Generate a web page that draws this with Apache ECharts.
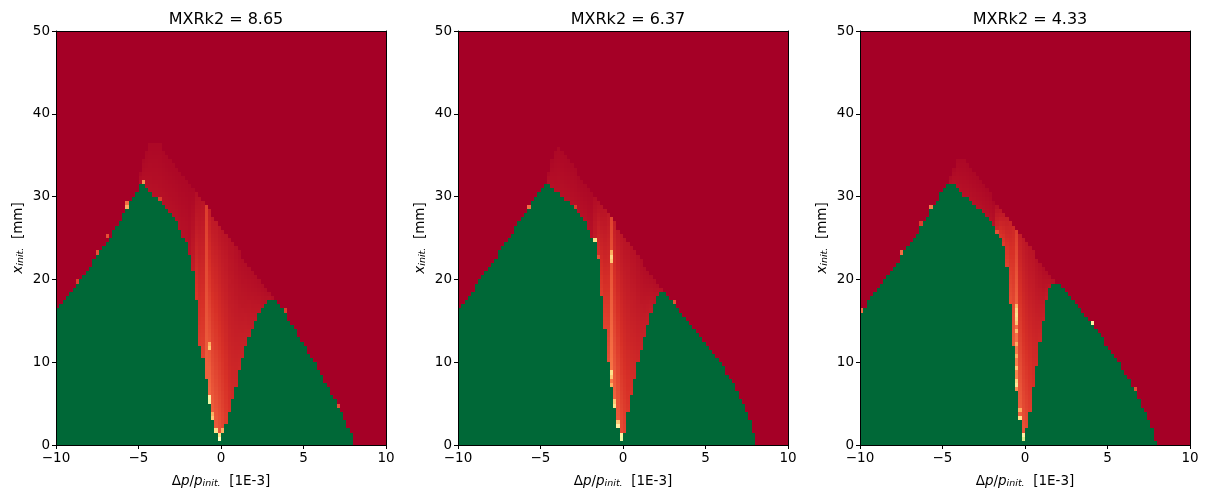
<!DOCTYPE html>
<html>
<head>
<meta charset="utf-8">
<script src="https://cdn.jsdelivr.net/npm/echarts@6.0.0/dist/echarts.min.js"></script>
<style>
  html, body { margin: 0; padding: 0; background: #fff; }
  #chart { width: 1205px; height: 498px; }
</style>
</head>
<body>
<div id="chart"></div>
<script>
// panel titles
var titles = ["MXRk2 = 8.65", "MXRk2 = 6.37", "MXRk2 = 4.33"];
var xTicks = [-10, -5, 0, 5, 10];
var yTicks = [0, 10, 20, 30, 40, 50];

// height (mm) up to which each 0.2-wide column stays stable (green), x = -9.9 .. 9.9
var green1 = [16.5, 17, 17.5, 18, 18.5, 19, 19.5, 20, 20.5, 21, 21.5, 22.5, 23, 23.5, 24, 24.5, 25, 26, 26.5, 27,
  28, 28.5, 29.5, 30, 30.5, 31.5, 31.5, 31, 30.5, 30, 30, 29.5, 29, 28.5, 28, 27.5, 27, 26, 25, 24.5,
  23, 21, 17.5, 12, 10.5, 8, 5, 3, 1.5, 0.5, 1.5, 2.5, 4, 5.5, 7, 9, 10.5, 12, 13, 14,
  15, 16, 16.5, 17, 17.5, 17.5, 17.5, 17, 16.5, 16, 15, 14.5, 14, 13, 12.5, 12, 11, 10.5, 10, 9,
  8.5, 7.5, 7, 6, 5.5, 4.5, 4, 3, 2, 1.5, 0, 0, 0, 0, 0, 0, 0, 0, 0, 0];
var green2 = [16.5, 17, 17.5, 18, 18.5, 19.5, 20, 20.5, 21, 21.5, 22, 22.5, 23.5, 24, 24.5, 25, 25.5, 26.5, 27, 27.5,
  28, 28.5, 29.5, 30, 30.5, 31, 31.5, 31.5, 31, 30.5, 30.5, 30, 29.5, 29.5, 29, 28.5, 28, 27.5, 27, 26,
  25, 24.5, 22.5, 18, 14, 10, 7, 4.5, 2, 0.5, 1.5, 4, 6, 8, 10, 11.5, 13, 14.5, 16, 17,
  18, 18.5, 18.5, 18, 17.5, 17, 16.5, 16, 15.5, 15, 14.5, 14, 13.5, 13, 12.5, 12, 11.5, 11, 10.5, 10,
  9.5, 8.5, 8, 7.5, 6.5, 5.5, 5, 4, 3, 1.5, 0, 0, 0, 0, 0, 0, 0, 0, 0, 0];
var green3 = [16, 16.5, 17.5, 18, 18.5, 19, 19.5, 20, 20.5, 21, 21.5, 22, 23, 23.5, 24, 24.5, 25, 25.5, 26.5, 27,
  27.5, 28.5, 29, 29.5, 30.5, 31, 31.5, 31.5, 31.5, 31, 30.5, 30, 30, 29.5, 29, 28.5, 28.5, 28, 27.5, 27,
  26.5, 25.5, 25, 24, 21.5, 17, 12, 6.5, 3, 0.5, 2, 4, 7, 9.5, 12.5, 15, 17.5, 19, 19.5, 19.5,
  19.5, 19, 18.5, 18, 17.5, 17, 16.5, 16, 15.5, 15, 14.5, 14, 13.5, 13, 12, 11.5, 11, 10.5, 10, 9,
  8.5, 8, 7, 6.5, 5.5, 4.5, 4, 3, 2, 0.5, 0, 0, 0, 0, 0, 0, 0, 0, 0, 0];

// partly-surviving band: first column, top of band (mm), level at band top and at green edge
var from1 = -4.9;
var top1 = [33, 34.5, 35.5, 36.5, 36.5, 36.5, 36.5, 35.5, 35, 34.5, 34, 33.5, 33, 32.5, 32, 31.5, 31, 30.5, 30, 29.5,
  29, 28.5, 27.5, 27, 26.5, 26, 25.5, 25, 24.5, 24, 23.5, 22.5, 22, 21.5, 21, 20.5, 20, 19.5, 19, 18.5, 18];
var hiLv1 = [0.015, 0.015, 0.015, 0.015, 0.015, 0.015, 0.015, 0.015, 0.015, 0.015, 0.015, 0.015, 0.015, 0.015, 0.015, 0.015, 0.015,
  0.03, 0.035, 0.04, 0.12, 0.06, 0.05, 0.05, 0.045, 0.04, 0.04, 0.035, 0.035, 0.03,
  0.025, 0.025, 0.025, 0.025, 0.025, 0.025, 0.025, 0.025, 0.025, 0.025, 0.025];
var loLv1 = [0.035, 0.035, 0.035, 0.035, 0.035, 0.035, 0.035, 0.035, 0.035, 0.035, 0.035, 0.035, 0.035, 0.035, 0.035, 0.035,
  0.06, 0.11, 0.12, 0.13, 0.18, 0.2, 0.18, 0.17, 0.16, 0.14, 0.12, 0.1, 0.09, 0.085,
  0.08, 0.075, 0.07, 0.065, 0.06, 0.055, 0.05, 0.045, 0.04, 0.04, 0.035];
var spots1 = [[-0.7, 11.75, 0.35], [-0.7, 12.25, 0.3], [-0.7, 5.25, 0.55], [-0.7, 5.75, 0.45], [-0.5, 3.25, 0.35],
  [-0.5, 3.75, 0.3], [-0.3, 1.75, 0.4], [-0.1, 0.75, 0.5], [-0.1, 1.25, 0.4], [0.1, 1.75, 0.3],
  [-4.7, 31.75, 0.25], [-5.7, 28.75, 0.3], [-5.7, 29.25, 0.2], [-6.9, 25.25, 0.15], [-7.5, 23.25, 0.15],
  [-8.7, 19.75, 0.12], [-3.7, 29.75, 0.12], [3.9, 16.25, 0.12], [7.1, 4.75, 0.15]];

var from2 = -4.5;
var top2 = [33, 34.5, 35.5, 36, 35.5, 35, 34.5, 34, 33.5, 32.5, 32, 31.5, 31, 30.5, 30, 29.5, 29, 28.5, 28, 27.5,
  27, 26, 25.5, 25, 24.5, 24, 23.5, 23, 22.5, 21.5, 21, 20.5, 20, 19.5, 19];
var hiLv2 = [0.015, 0.015, 0.015, 0.015, 0.015, 0.015, 0.015, 0.015, 0.015, 0.015, 0.015, 0.015, 0.015, 0.015,
  0.025, 0.03, 0.035, 0.04, 0.05, 0.13, 0.06, 0.05, 0.045, 0.04, 0.04, 0.035, 0.035, 0.03,
  0.025, 0.025, 0.025, 0.025, 0.025, 0.025, 0.025];
var loLv2 = [0.035, 0.035, 0.035, 0.035, 0.035, 0.035, 0.035, 0.035, 0.035, 0.035, 0.035, 0.035, 0.035, 0.035,
  0.06, 0.1, 0.12, 0.13, 0.15, 0.22, 0.19, 0.17, 0.15, 0.13, 0.11, 0.1, 0.09, 0.08,
  0.075, 0.07, 0.065, 0.06, 0.05, 0.045, 0.04];
var spots2 = [[-0.7, 22.25, 0.35], [-0.7, 22.75, 0.38], [-0.7, 23.25, 0.3], [-0.7, 7.25, 0.3], [-0.7, 8.25, 0.35],
  [-0.7, 8.75, 0.4], [-0.5, 4.75, 0.4], [-0.5, 5.25, 0.35], [-0.3, 2.25, 0.45], [-0.3, 2.75, 0.35],
  [-0.1, 0.75, 0.55], [-0.1, 1.25, 0.45], [-1.7, 24.75, 0.4], [-1.5, 22.75, 0.15], [-2.9, 28.75, 0.12],
  [-5.7, 28.75, 0.2], [3.1, 17.25, 0.15]];

var from3 = -4.5;
var top3 = [32.5, 33.5, 34.5, 34.5, 34.5, 34, 33.5, 33, 32.5, 32, 31.5, 31, 30.5, 29.5, 29, 28.5, 28, 27.5, 27, 26.5,
  26, 25.5, 25, 24.5, 24, 23.5, 22.5, 22, 21.5, 21, 20.5, 20];
var hiLv3 = [0.015, 0.015, 0.015, 0.015, 0.015, 0.015, 0.015, 0.015, 0.015, 0.015, 0.015, 0.015, 0.015, 0.015,
  0.03, 0.04, 0.05, 0.06, 0.07, 0.08, 0.12, 0.06, 0.05, 0.045, 0.04, 0.04, 0.035, 0.03,
  0.025, 0.025, 0.025, 0.025];
var loLv3 = [0.035, 0.035, 0.035, 0.035, 0.035, 0.035, 0.035, 0.035, 0.035, 0.035, 0.035, 0.035, 0.035, 0.035,
  0.09, 0.11, 0.12, 0.13, 0.15, 0.17, 0.25, 0.18, 0.16, 0.14, 0.12, 0.1, 0.09, 0.08,
  0.07, 0.06, 0.05, 0.04];
var spots3 = [[-0.5, 16.75, 0.32], [-0.5, 16.25, 0.38], [-0.5, 15.75, 0.4], [-0.5, 15.25, 0.38], [-0.5, 14.75, 0.35],
  [-0.5, 13.75, 0.33], [-0.5, 12.25, 0.3], [-0.5, 10.75, 0.3], [-0.5, 9.25, 0.35], [-0.5, 7.75, 0.38],
  [-0.5, 7.25, 0.42], [-0.3, 3.25, 0.4], [-0.3, 4.25, 0.3], [-0.1, 0.75, 0.6], [-0.1, 1.25, 0.45],
  [-9.9, 16.25, 0.2], [-7.5, 23.25, 0.2], [-5.7, 28.75, 0.22], [-6.3, 26.75, 0.12], [-1.7, 25.75, 0.15],
  [4.1, 14.75, 0.45], [6.7, 6.75, 0.15]];

// RdYlGn
var rdYlGn = ["#a50026", "#d73027", "#f46d43", "#fdae61", "#fee08b", "#ffffbf",
  "#d9ef8b", "#a6d96a", "#66bd63", "#1a9850", "#006837"];

var STEP = 0.2, ROW = 0.5;
var xCols = [];
for (var c = 0; c < 100; c++) xCols.push(+(-9.9 + STEP * c).toFixed(1));

// cells as [x, yFrom, yTo, level]
function buildCells(green, from, top, hiLv, loLv, spots) {
  var cells = [];
  var first = Math.round((from + 9.9) / STEP);
  xCols.forEach(function (x, i) {
    var g = green[i];
    var k = i - first;
    var t = (k >= 0 && k < top.length) ? Math.max(top[k], g) : g;
    if (g > 0) cells.push([x, 0, g, 1]);
    for (var y = g; y < t; y += ROW) {
      var f = (y + ROW / 2 - g) / (t - g);
      cells.push([x, y, y + ROW, loLv[k] + (hiLv[k] - loLv[k]) * f]);
    }
    cells.push([x, t, 50, 0]);
  });
  spots.forEach(function (s) {
    cells.push([s[0], s[1] - ROW / 2, s[1] + ROW / 2, s[2]]);
  });
  return cells;
}

var panels = [
  buildCells(green1, from1, top1, hiLv1, loLv1, spots1),
  buildCells(green2, from2, top2, hiLv2, loLv2, spots2),
  buildCells(green3, from3, top3, hiLv3, loLv3, spots3)
];

function renderCell(params, api) {
  var a = api.coord([api.value(0) - STEP / 2, api.value(2)]);
  var b = api.coord([api.value(0) + STEP / 2, api.value(1)]);
  var x0 = Math.round(a[0]), x1 = Math.round(b[0]);
  var y0 = Math.round(a[1]), y1 = Math.round(b[1]);
  return {
    type: "rect",
    shape: { x: x0, y: y0, width: x1 - x0, height: y1 - y0 },
    style: { fill: api.visual("color") }
  };
}

var FONT = "DejaVu Sans";
var lefts = [56, 458, 860];
var minus = function (v) { return v < 0 ? "\u2212" + (-v) : String(v); };
var line = { show: true, onZero: false, lineStyle: { color: "#000", width: 1 } };
var nameRich = {
  i: { fontFamily: FONT, fontSize: 13.5, fontStyle: "italic", color: "#000" },
  s: { fontFamily: FONT, fontSize: 9.5, fontStyle: "italic", color: "#000", verticalAlign: "bottom", padding: [5, 0, 0, 0] }
};

var grids = [], xAxes = [], yAxes = [], series = [], titleList = [];
lefts.forEach(function (l, i) {
  grids.push({ left: l, width: 330, top: 31, height: 414 });
  titleList.push({
    text: titles[i], left: l + 165, top: 7, textAlign: "center",
    textStyle: { fontFamily: FONT, fontSize: 16, fontWeight: "normal", color: "#000" }
  });
  series.push({
    type: "custom", coordinateSystem: "cartesian2d",
    xAxisIndex: i, yAxisIndex: i, clip: true,
    encode: { x: 0, y: [1, 2] },
    renderItem: renderCell,
    data: panels[i]
  });
});
lefts.forEach(function (l, i) {
  xAxes.push({
    gridIndex: i, type: "value", min: xTicks[0], max: xTicks[xTicks.length - 1], interval: 5,
    position: "bottom", z: 5, axisLine: line,
    axisTick: { show: true, length: 4, lineStyle: { color: "#000" } },
    axisLabel: { color: "#000", fontFamily: FONT, fontSize: 13.5, margin: 6, formatter: minus },
    splitLine: { show: false },
    name: "\u0394{i|p}/{i|p}{s|init.}  [1E-3]", nameLocation: "middle", nameGap: 29,
    nameTextStyle: { color: "#000", fontFamily: FONT, fontSize: 13.5, rich: nameRich }
  });
  yAxes.push({
    gridIndex: i, type: "value", min: yTicks[0], max: yTicks[yTicks.length - 1], interval: 10,
    position: "left", z: 5, axisLine: line,
    axisTick: { show: true, length: 4, lineStyle: { color: "#000" } },
    axisLabel: { color: "#000", fontFamily: FONT, fontSize: 13.5, margin: 6 },
    splitLine: { show: false },
    name: "{i|x}{s|init.}  [mm]", nameLocation: "middle", nameGap: 30,
    nameTextStyle: { color: "#000", fontFamily: FONT, fontSize: 13.5, rich: nameRich }
  });
});
// frame: top and right spines
lefts.forEach(function (l, i) {
  xAxes.push({
    gridIndex: i, type: "value", min: -10, max: 10, position: "top", z: 5,
    axisLine: line, axisTick: { show: false }, axisLabel: { show: false }, splitLine: { show: false }
  });
  yAxes.push({
    gridIndex: i, type: "value", min: 0, max: 50, position: "right", z: 5,
    axisLine: line, axisTick: { show: false }, axisLabel: { show: false }, splitLine: { show: false }
  });
});

var chart = echarts.init(document.getElementById("chart"));
chart.setOption({
  animation: false,
  backgroundColor: "#fff",
  title: titleList,
  grid: grids,
  xAxis: xAxes,
  yAxis: yAxes,
  visualMap: {
    type: "continuous", show: false, min: 0, max: 1, dimension: 3,
    seriesIndex: [0, 1, 2], inRange: { color: rdYlGn }
  },
  series: series
});
</script>
</body>
</html>
